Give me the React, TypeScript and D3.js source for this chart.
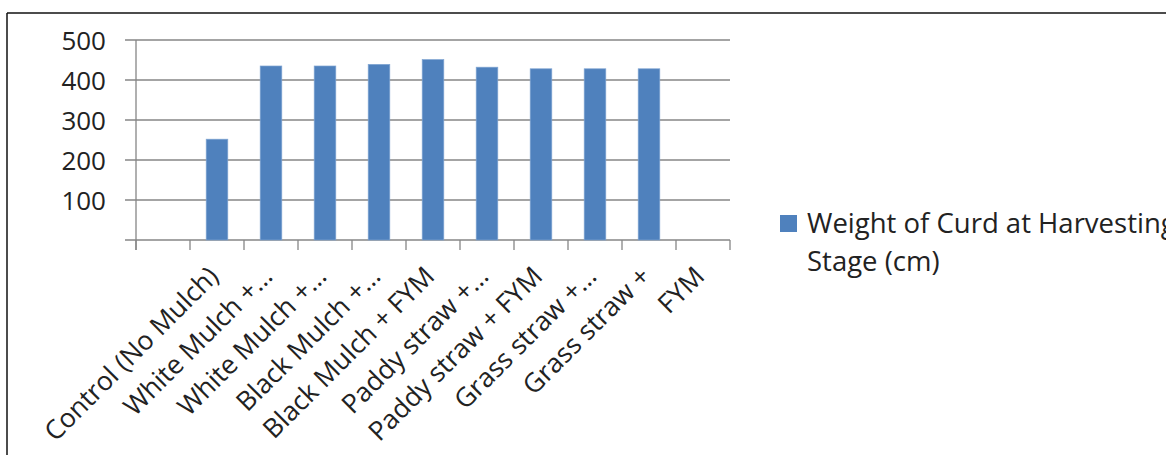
import React from "react";
import * as d3 from "d3";

const categories: string[] = [
  "",
  "Control (No Mulch)",
  "White Mulch +…",
  "White Mulch +…",
  "Black Mulch +…",
  "Black Mulch + FYM",
  "Paddy straw +…",
  "Paddy straw + FYM",
  "Grass straw +…",
  "Grass straw +",
  "FYM",
];
const values: (number | null)[] = [null, 252, 435, 435, 439, 451, 432, 428, 428, 428, null];
const yTicks: number[] = [100, 200, 300, 400, 500];
const seriesName: string[] = ["Weight of Curd at Harvesting", "Stage (cm)"];

const W = 1166;
const H = 455;
const FONT = "'Open Sans', Lato, sans-serif";
const GRID = "#868686";
const BAR = "#4F81BD";

export default function App() {
  const x = d3
    .scaleBand<number>()
    .domain(categories.map((_, i) => i))
    .range([136, 730])
    .padding(0);
  const y = d3.scaleLinear().domain([0, 500]).range([240, 40]);
  const bw = x.bandwidth();
  const barW = bw / 2.5;
  const boundaries = d3.range(categories.length + 1).map((i) => 136 + i * bw);

  return (
    <svg
      width={W}
      height={H}
      style={{ position: "absolute", left: 0, top: 0, background: "#fff" }}
      fontFamily={FONT}
    >
      <rect x={0} y={0} width={W} height={H} fill="#fff" />
      {/* outer frame */}
      <line x1={7} y1={13} x2={W} y2={13} stroke="#111" strokeWidth={1.5} />
      <line x1={7} y1={13} x2={7} y2={H} stroke="#111" strokeWidth={1.5} />

      {/* gridlines */}
      {yTicks.map((t) => (
        <line key={t} x1={125} x2={730} y1={y(t)} y2={y(t)} stroke={GRID} strokeWidth={1.3} />
      ))}
      {/* x axis */}
      <line x1={125} x2={730} y1={y(0)} y2={y(0)} stroke={GRID} strokeWidth={1.3} />
      {/* y axis */}
      <line x1={136} x2={136} y1={y(500)} y2={250} stroke={GRID} strokeWidth={1.3} />
      {boundaries.map((bx, i) => (
        <line key={i} x1={bx} x2={bx} y1={y(0)} y2={250} stroke={GRID} strokeWidth={1.3} />
      ))}

      {/* y labels */}
      {yTicks.map((t) => (
        <text
          key={t}
          x={106}
          y={y(t)}
          textAnchor="end"
          dominantBaseline="central"
          fontSize={26}
          fill="#222"
        >
          {t}
        </text>
      ))}

      {/* bars */}
      {values.map((v, i) =>
        v == null ? null : (
          <rect
            key={i}
            x={(x(i) as number) + (bw - barW) / 2}
            y={y(v)}
            width={barW}
            height={y(0) - y(v)}
            fill={BAR}
            stroke="#7FA4D2"
            strokeWidth={0.7}
          />
        )
      )}

      {/* x labels */}
      {categories.map((c, i) => {
        const cx = (x(i) as number) + bw / 2;
        return (
          <text
            key={i}
            transform={`translate(${cx + 3},278) rotate(-45)`}
            textAnchor="end"
            fontSize={26.5}
            fill="#222"
          >
            {c}
          </text>
        );
      })}

      {/* legend */}
      <rect x={780} y={215} width={17} height={17} fill={BAR} />
      <text x={807} y={233} fontSize={27.5} fill="#222">
        {seriesName[0]}
      </text>
      <text x={807} y={271} fontSize={27.5} fill="#222">
        {seriesName[1]}
      </text>
    </svg>
  );
}
